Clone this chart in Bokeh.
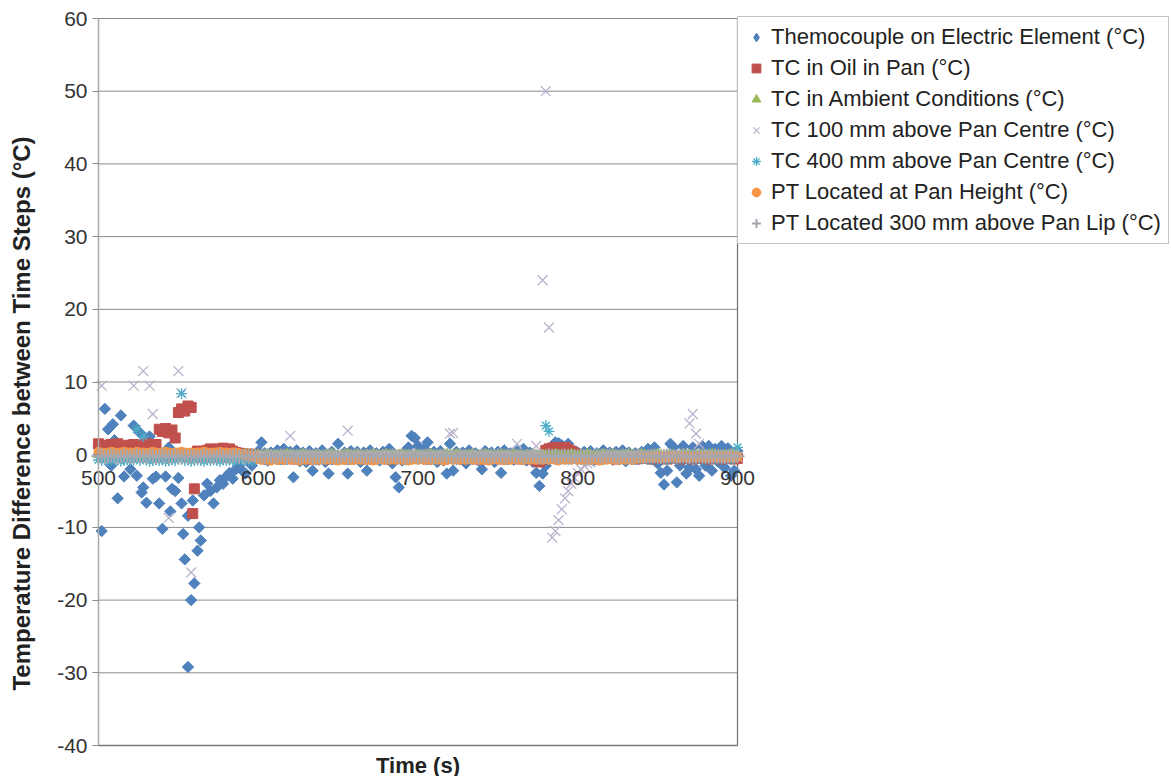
import numpy as np
from bokeh.plotting import figure
from bokeh.models import Legend, LegendItem, FixedTicker, Range1d, LinearAxis
from bokeh.embed import file_html
from bokeh.resources import INLINE

# ---------------- data ----------------
time_s = list(range(500, 901, 2))

elem = [
    1.0, -10.5, 6.3, 3.5, -1.5, 2.0, -6.0, 5.4, -3.0, 1.2,
    -2.0, 4.0, -2.9, 3.0, -4.5, -6.6, 2.5, -3.3, -3.0, -6.7,
    -10.2, -3.0, 1.0, -4.7, -5.0, -3.2, -6.7, -14.4, -29.2, -20.0,
    -17.7, -13.2, -11.8, -5.6, -4.0, -5.0, -6.7, -4.5, -3.5, -4.0,
    -3.0, -2.5, -3.3, -2.0, -1.5, -2.2, -2.6, -1.0, -1.5, -0.5,
    0.5, 1.7, 0.2, -0.8, 0.3, -0.5, 0.6, -0.3, 0.8, -0.6,
    0.4, -3.1, 0.6, -0.9, 0.3, -1.0, 0.5, -2.2, 0.2, -0.7,
    0.6, -1.0, -2.6, 0.4, -0.5, 1.5, -0.4, 0.3, -2.6, 0.5,
    -0.6, 0.4, -1.0, 0.3, -2.2, 0.6, -0.5, 0.2, -0.8, 0.4,
    -0.4, 0.8, -1.2, -3.1, -4.5, -0.8, 0.5, 1.0, 2.6, 2.3,
    1.2, -0.5, 0.8, 1.7, -0.6, 0.4, -1.0, 0.5, -0.8, -2.6,
    1.5, -2.2, 0.4, -0.6, 0.3, -1.2, 0.6, -0.4, 0.2, -0.8,
    -2.0, 0.5, -0.6, 0.3, -1.0, 0.4, -2.5, 0.6, -0.5, 0.2,
    -0.7, 0.5, -0.3, 0.8, -0.8, 0.3, -1.0, -2.5, -4.3, -2.6,
    -1.5, 0.6, 1.2, 1.7, 1.6, 1.3, 1.0, 1.5, 0.6, -0.5,
    0.3, -0.6, 0.4, -0.3, 0.5, -0.8, 0.2, -0.4, 0.6, -0.5,
    0.3, -0.7, 0.4, -0.2, 0.6, -0.9, 0.3, -0.5, 0.2, -0.6,
    0.4, -0.3, 0.8, -0.6, 1.0, -1.2, -2.5, -4.1, -2.2, 1.5,
    1.0, -3.8, -1.5, 1.2, -2.6, -1.8, 1.0, -2.0, -2.9, 1.2,
    -1.5, 1.2, -2.2, 0.8, -1.0, 1.2, -1.8, 0.9, -2.9, -2.2,
    0.5,
]
elem_extra_t = [553, 556, 559, 563, 509, 527, 545]
elem_extra_v = [-10.9, -8.4, -6.3, -10.0, 4.2, -5.2, -7.8]

oil = [
    1.5, 1.2, 1.3, 1.0, 1.4, 1.2, 1.5, 1.1, 1.3, 1.0,
    1.2, 1.4, 1.0, 1.3, 1.1, 1.5, 1.2, 1.4, 1.4, 3.5,
    3.2, 3.6, 3.0, 3.4, 2.3, 5.8, 6.3, 6.0, 6.7, 6.5,
    -4.7, 0.5, 0.2, 0.4, 0.6, 0.8, 0.7, 0.5, 0.8, 0.9,
    0.6, 0.8, 0.5, 0.3, 0.2, 0.1, 0.0, 0.1, -0.1, 0.0,
    -0.4, -0.5, -0.4, -0.6, -0.5, -0.4, -0.5, -0.6, -0.4, -0.5,
    -0.5, -0.4, -0.6, -0.5, -0.4, -0.5, -0.4, -0.6, -0.5, -0.4,
    -0.4, -0.5, -0.5, -0.6, -0.4, -0.5, -0.4, -0.5, -0.6, -0.5,
    -0.5, -0.4, -0.5, -0.4, -0.6, -0.5, -0.4, -0.5, -0.5, -0.4,
    -0.4, -0.6, -0.5, -0.4, -0.5, -0.4, -0.6, -0.5, -0.4, -0.5,
    -0.5, -0.4, -0.5, -0.6, -0.4, -0.5, -0.5, -0.4, -0.6, -0.5,
    -0.4, -0.5, -0.4, -0.5, -0.6, -0.4, -0.5, -0.4, -0.5, -0.6,
    -0.5, -0.4, -0.6, -0.5, -0.4, -0.5, -0.4, -0.6, -0.5, -0.4,
    -0.4, -0.5, -0.4, -0.6, -0.5, -0.4, -0.5, -0.8, -1.0, -0.6,
    0.6, 0.8, 0.9, 1.0, 0.9, 0.8, 1.0, 0.7, 0.5, 0.2,
    -0.3, -0.4, -0.5, -0.4, -0.5, -0.6, -0.4, -0.5, -0.4, -0.5,
    -0.5, -0.4, -0.6, -0.5, -0.4, -0.5, -0.4, -0.5, -0.6, -0.4,
    -0.5, -0.4, -0.5, -0.6, -0.4, -0.5, -0.5, -0.4, -0.6, -0.5,
    -0.4, -0.5, -0.6, -0.5, -0.4, -0.5, -0.6, -0.5, -0.4, -0.5,
    -0.5, -0.6, -0.5, -0.4, -0.5, -0.6, -0.5, -0.4, -0.5, -0.6,
    -0.5,
]
oil_extra_t = [559]
oil_extra_v = [-8.1]

ambient = [
    0.0, -0.1, 0.0, 0.1, 0.0, -0.1, 0.0, 0.0, -0.1, 0.0,
    0.1, 0.0, -0.1, 0.0, 0.0, 0.1, 0.0, -0.1, 0.0, 0.0,
    -0.1, 0.0, 0.0, 0.1, 0.0, -0.1, 0.0, 0.1, 0.0, -0.1,
    0.0, 0.0, -0.1, 0.0, 0.1, 0.0, 0.0, -0.1, 0.0, 0.0,
    0.1, 0.0, -0.1, 0.0, 0.0, 0.0, 0.1, 0.0, -0.1, 0.0,
    0.0, -0.1, 0.0, 0.1, 0.0, 0.0, -0.1, 0.0, 0.0, 0.1,
    0.0, 0.0, -0.1, 0.0, 0.1, 0.0, 0.0, -0.1, 0.0, 0.0,
    -0.1, 0.0, 0.0, 0.1, 0.0, -0.1, 0.0, 0.0, 0.1, 0.0,
    0.0, 0.1, 0.0, -0.1, 0.0, 0.0, 0.1, 0.0, -0.1, 0.0,
    0.1, 0.0, -0.1, 0.0, 0.0, 0.1, 0.0, 0.0, -0.1, 0.0,
    0.0, -0.1, 0.0, 0.0, 0.1, 0.0, -0.1, 0.0, 0.0, 0.1,
    0.0, 0.0, 0.1, 0.0, -0.1, 0.0, 0.0, 0.1, 0.0, -0.1,
    0.0, 0.1, 0.0, 0.0, -0.1, 0.0, 0.1, 0.0, 0.0, -0.1,
    0.1, 0.0, 0.0, -0.1, 0.0, 0.0, 0.1, 0.0, -0.1, 0.0,
    0.0, -0.1, 0.0, 0.1, 0.0, 0.0, -0.1, 0.0, 0.1, 0.0,
    -0.1, 0.0, 0.0, 0.1, 0.0, -0.1, 0.0, 0.0, 0.1, 0.0,
    0.0, 0.1, 0.0, -0.1, 0.0, 0.0, 0.1, 0.0, -0.1, 0.0,
    0.1, 0.0, -0.1, 0.0, 0.0, 0.1, 0.0, -0.1, 0.0, 0.0,
    0.0, -0.1, 0.0, 0.1, 0.0, 0.0, -0.1, 0.0, 0.1, 0.0,
    -0.1, 0.0, 0.1, 0.0, 0.0, -0.1, 0.0, 0.0, 0.1, 0.0,
    0.0,
]

tc100 = [
    -0.3, 9.5, -0.2, -0.4, -0.3, -0.2, -0.3, -0.4, -0.2, -0.3,
    -0.3, 9.5, -0.2, -0.4, 11.5, -0.3, 9.5, 5.6, -0.2, -0.3,
    -0.3, -0.2, -8.7, -0.4, -0.3, 11.5, 8.5, -0.2, -0.3, -16.2,
    -0.3, -0.2, -0.4, -0.3, -0.2, -0.3, -0.4, -0.2, -0.3, -0.3,
    -0.2, -0.3, -0.4, -0.2, -0.3, -0.3, -0.2, -0.4, -0.3, -0.2,
    -0.3, -0.2, -0.3, -0.4, -0.2, -0.3, -0.3, -0.2, -0.4, -0.3,
    2.6, -0.3, -0.2, -0.3, -0.4, -0.2, -0.3, -0.3, -0.2, -0.4,
    -0.3, -0.2, -0.3, -0.4, -0.2, -0.3, -0.3, -0.2, 3.3, -0.3,
    -0.2, -0.3, -0.4, -0.2, -0.3, -0.3, -0.2, -0.4, -0.3, -0.2,
    -0.3, -0.2, -0.3, -0.4, -0.2, -0.3, -0.3, -0.2, -0.4, -0.3,
    -0.2, -0.3, -0.4, -0.2, -0.3, -0.3, -0.2, -0.4, -0.3, -0.2,
    2.9, 3.0, -0.3, -0.2, -0.4, -0.3, -0.2, -0.3, -0.4, -0.2,
    -0.3, -0.2, -0.3, -0.4, -0.2, -0.3, -0.3, -0.2, -0.4, -0.3,
    -0.2, 1.5, -0.3, -0.4, -0.2, -0.3, -0.3, 1.2, -0.2, 24.0,
    50.0, 17.5, -11.4, -10.5, -9.0, -7.5, -6.0, -5.0, -4.0, -3.2,
    -2.5, -2.0, -1.5, -1.2, -1.0, -0.8, -0.6, -0.5, -0.4, -0.3,
    -0.3, -0.2, -0.4, -0.3, -0.2, -0.3, -0.4, -0.2, -0.3, -0.3,
    -0.2, -0.3, -0.4, -0.2, -0.3, -0.3, -0.2, -0.4, -0.3, -0.2,
    -0.3, -0.2, -0.3, -0.4, -0.2, 4.3, 5.6, 2.9, 1.5, -0.3,
    -0.2, -0.3, -0.4, -0.2, -0.3, -0.3, -0.2, -0.4, -0.3, -0.2,
    -0.3,
]

tc400 = [
    -0.7, -0.8, -0.6, -0.9, -0.7, -0.8, -0.7, -0.9, -0.8, -0.7,
    -0.8, -0.7, 3.5, -0.8, 2.5, -0.7, -0.9, -0.8, -0.7, -0.8,
    -0.7, -0.9, -0.8, -0.7, -0.8, -0.6, 8.4, -0.8, -0.7, -0.9,
    -0.8, -0.7, -0.8, -0.9, -0.7, -0.8, -0.7, -0.8, -0.9, -0.7,
    -0.8, -0.7, -0.9, -0.8, -0.7, -0.8, -0.7, -0.9, -0.8, -0.7,
    -0.5, -0.6, -0.7, -0.5, -0.6, -0.5, -0.6, -0.7, -0.5, -0.6,
    -0.6, -0.5, -0.6, -0.7, -0.5, -0.6, -0.5, -0.6, -0.7, -0.5,
    -0.5, -0.6, -0.5, -0.7, -0.6, -0.5, -0.6, -0.5, -0.7, -0.6,
    -0.6, -0.5, -0.7, -0.6, -0.5, -0.6, -0.5, -0.6, -0.7, -0.5,
    -0.5, -0.7, -0.6, -0.5, -0.6, -0.5, -0.7, -0.6, -0.5, -0.6,
    -0.6, -0.5, -0.6, -0.7, -0.5, -0.6, -0.5, -0.7, -0.6, -0.5,
    -0.5, -0.6, -0.7, -0.5, -0.6, -0.5, -0.6, -0.7, -0.5, -0.6,
    -0.6, -0.5, -0.6, -0.7, -0.5, -0.6, -0.5, -0.6, -0.7, -0.5,
    -0.5, -0.6, -0.5, -0.7, -0.6, -0.5, -0.6, -0.5, -0.7, -0.6,
    4.0, 3.2, -0.4, -0.6, -0.5, -0.6, -0.5, -0.7, -0.6, -0.5,
    -0.6, -0.5, -0.7, -0.6, -0.5, -0.6, -0.5, -0.6, -0.7, -0.5,
    -0.5, -0.6, -0.5, -0.7, -0.6, -0.5, -0.6, -0.5, -0.7, -0.6,
    -0.6, -0.5, -0.6, -0.7, -0.5, -0.6, -0.5, -0.6, -0.7, -0.5,
    -0.5, -0.7, -0.6, -0.5, -0.6, -0.5, -0.7, -0.6, -0.5, -0.6,
    -0.6, -0.5, -0.6, -0.7, -0.5, -0.6, -0.5, -0.6, -0.7, -0.5,
    1.0,
]

pt_pan = [
    0.4, 0.3, 0.2, 0.3, 0.4, 0.3, 0.2, 0.3, 0.4, 0.3,
    0.3, 0.2, 0.4, 0.3, 0.3, 0.2, 0.3, 0.4, 0.3, 0.2,
    0.3, 0.4, 0.3, 0.2, 0.3, 0.3, 0.4, 0.3, 0.2, 0.3,
    0.2, 0.3, 0.3, 0.4, 0.3, 0.2, 0.3, 0.3, 0.4, 0.3,
    0.3, 0.2, 0.3, 0.3, 0.2, 0.1, 0.0, -0.1, -0.2, -0.3,
    -0.6, -0.7, -0.6, -0.7, -0.8, -0.6, -0.7, -0.6, -0.7, -0.6,
    -0.7, -0.6, -0.7, -0.8, -0.6, -0.7, -0.6, -0.7, -0.6, -0.7,
    -0.6, -0.7, -0.6, -0.6, -0.7, -0.8, -0.6, -0.7, -0.6, -0.7,
    -0.7, -0.6, -0.7, -0.6, -0.7, -0.6, -0.8, -0.7, -0.6, -0.7,
    -0.6, -0.7, -0.6, -0.7, -0.6, -0.7, -0.6, -0.8, -0.7, -0.6,
    -0.7, -0.6, -0.7, -0.6, -0.7, -0.6, -0.7, -0.6, -0.8, -0.7,
    -0.6, -0.7, -0.6, -0.7, -0.6, -0.7, -0.6, -0.7, -0.6, -0.7,
    -0.7, -0.6, -0.8, -0.7, -0.6, -0.7, -0.6, -0.7, -0.6, -0.7,
    -0.6, -0.7, -0.6, -0.7, -0.6, -0.7, -0.6, -0.7, -0.6, -0.7,
    -0.6, -0.7, -0.6, -0.7, -0.8, -0.6, -0.7, -0.6, -0.7, -0.6,
    -0.7, -0.6, -0.7, -0.6, -0.7, -0.6, -0.7, -0.8, -0.6, -0.7,
    -0.6, -0.7, -0.6, -0.7, -0.6, -0.7, -0.6, -0.7, -0.6, -0.5,
    -0.5, -0.4, -0.4, -0.3, -0.4, -0.3, -0.3, -0.4, -0.3, -0.3,
    -0.3, -0.4, -0.3, -0.3, -0.4, -0.3, -0.3, -0.4, -0.3, -0.3,
    -0.3, -0.4, -0.3, -0.3, -0.4, -0.3, -0.3, -0.4, -0.3, -0.3,
    -0.3,
]

pt_lip = [
    -0.2, -0.1, -0.3, -0.2, -0.1, -0.2, -0.3, -0.2, -0.1, -0.2,
    -0.3, -0.2, -0.1, -0.2, -0.2, -0.3, -0.1, -0.2, -0.3, -0.2,
    -0.1, -0.2, -0.3, -0.2, -0.1, -0.2, -0.4, -0.2, -0.3, -0.2,
    -0.2, -0.3, -0.2, -0.1, -0.2, -0.2, -0.3, -0.2, -0.1, -0.2,
    -0.3, -0.2, -0.2, -0.1, -0.3, -0.2, -0.2, -0.3, -0.1, -0.2,
    -0.2, -0.2, -0.3, -0.1, -0.2, -0.3, -0.2, -0.1, -0.2, -0.3,
    -0.1, -0.2, -0.2, -0.3, -0.2, -0.1, -0.2, -0.3, -0.2, -0.2,
    -0.3, -0.2, -0.1, -0.2, -0.2, -0.3, -0.2, -0.1, -0.3, -0.2,
    -0.2, -0.1, -0.2, -0.3, -0.2, -0.2, -0.1, -0.2, -0.3, -0.2,
    -0.2, -0.3, -0.1, -0.2, -0.2, -0.1, -0.3, -0.2, -0.2, -0.1,
    -0.3, -0.2, -0.2, -0.1, -0.2, -0.3, -0.2, -0.2, -0.1, -0.2,
    -0.2, -0.3, -0.2, -0.1, -0.2, -0.2, -0.3, -0.1, -0.2, -0.2,
    -0.1, -0.2, -0.3, -0.2, -0.2, -0.1, -0.2, -0.3, -0.2, -0.1,
    -0.2, -0.2, -0.1, -0.3, -0.2, -0.2, -0.1, -0.2, -0.3, -0.2,
    -0.3, -0.1, -0.2, -0.2, -0.3, -0.2, -0.1, -0.2, -0.2, -0.3,
    -0.2, -0.1, -0.2, -0.3, -0.2, -0.2, -0.1, -0.3, -0.2, -0.2,
    -0.1, -0.2, -0.2, -0.3, -0.1, -0.2, -0.2, -0.3, -0.2, -0.1,
    -0.2, -0.3, -0.2, -0.2, -0.1, -0.2, -0.3, -0.2, -0.2, -0.1,
    -0.3, -0.2, -0.2, -0.1, -0.2, -0.3, -0.2, -0.2, -0.1, -0.2,
    -0.2, -0.2, -0.3, -0.1, -0.2, -0.2, -0.3, -0.2, -0.1, -0.2,
    -0.2,
]

series_names = [
    "Themocouple on Electric Element (°C)",
    "TC in Oil in Pan (°C)",
    "TC in Ambient Conditions (°C)",
    "TC 100 mm above Pan Centre (°C)",
    "TC 400 mm above Pan Centre (°C)",
    "PT Located at Pan Height (°C)",
    "PT Located 300 mm above Pan Lip (°C)",
]
x_tick_values = [500, 600, 700, 800, 900]
x_tick_labels = ["500", "600", "700", "800", "900"]
y_ticks = [-40, -30, -20, -10, 0, 10, 20, 30, 40, 50, 60]
y_tick_labels = [str(v) for v in y_ticks]
X_MIN, X_MAX = 500, 900
Y_MIN, Y_MAX = -40, 60

# ---------------- layout (pixels) ----------------
FIG_W, FIG_H = 1170, 776
PA_LEFT, PA_RIGHT, PA_TOP, PA_BOTTOM = 98, 737, 18, 745   # plot area box
LEG_BOTTOM = 244
YTITLE_CENTER = 413

sx = (PA_RIGHT - PA_LEFT) / (X_MAX - X_MIN)
sy = (PA_BOTTOM - PA_TOP) / (Y_MAX - Y_MIN)
x_start = X_MIN - PA_LEFT / sx
y_end = Y_MAX + PA_TOP / sy
ytitle_mid = Y_MAX - (YTITLE_CENTER - PA_TOP) / sy

FONT = "Liberation Sans"
TICK_COLOR = "#333333"
GRID_COLOR = "#8a8a8a"

p = figure(frame_width=FIG_W, frame_height=FIG_H,
           x_range=Range1d(x_start, x_start + FIG_W / sx),
           y_range=Range1d(y_end - FIG_H / sy, y_end),
           x_axis_location=None, y_axis_location=None,
           output_backend="svg", toolbar_location=None, min_border=0)
p.background_fill_color = "white"
p.border_fill_color = "white"
p.outline_line_color = None
p.grid.visible = False

# horizontal gridlines across the plot area only
p.segment(x0=X_MIN, x1=X_MAX, y0=y_ticks, y1=y_ticks,
          line_color=GRID_COLOR, line_width=1)
# right edge of the plot area
p.segment(x0=[X_MAX], x1=[X_MAX], y0=[Y_MIN], y1=[Y_MAX],
          line_color="#6f6f6f", line_width=1.2)

# y axis with ticks and labels at x = 500
ya = LinearAxis(fixed_location=X_MIN, bounds=(Y_MIN, Y_MAX),
                ticker=FixedTicker(ticks=y_ticks),
                major_label_overrides=dict(zip(y_ticks, y_tick_labels)))
ya.axis_line_color = "#a8a8a8"
ya.axis_line_width = 1.5
ya.major_tick_line_color = GRID_COLOR
ya.major_tick_out = 6
ya.major_tick_in = 0
ya.minor_tick_line_color = None
ya.major_label_text_font = FONT
ya.major_label_text_font_size = "21px"
ya.major_label_text_color = TICK_COLOR
ya.major_label_standoff = 5
p.add_layout(ya, "left")

# y title (its own axis, no line / ticks)
yt = LinearAxis(fixed_location=X_MIN,
                bounds=(Y_MIN, 2 * ytitle_mid - Y_MIN),
                ticker=FixedTicker(ticks=[]), axis_line_color=None,
                major_tick_line_color=None, minor_tick_line_color=None,
                axis_label="Temperature Difference between Time Steps (°C)",
                axis_label_text_font=FONT, axis_label_text_font_style="bold",
                axis_label_text_font_size="24px",
                axis_label_text_color="#222222", axis_label_standoff=64)
p.add_layout(yt, "left")

# x tick labels sitting on the zero line
xa = LinearAxis(fixed_location=0, bounds=(X_MIN, X_MAX),
                ticker=FixedTicker(ticks=x_tick_values),
                major_label_overrides=dict(zip(x_tick_values, x_tick_labels)))
xa.axis_line_color = None
xa.major_tick_line_color = None
xa.minor_tick_line_color = None
xa.major_label_text_font = FONT
xa.major_label_text_font_size = "21px"
xa.major_label_text_color = TICK_COLOR
xa.major_label_standoff = 10
p.add_layout(xa, "below")

# x title under the plot area
xt = LinearAxis(fixed_location=Y_MIN, bounds=(X_MIN, X_MAX),
                ticker=FixedTicker(ticks=[]), axis_line_color="#7a7a7a",
                axis_line_width=1.5,
                major_tick_line_color=None, minor_tick_line_color=None,
                axis_label="Time (s)", axis_label_text_font=FONT,
                axis_label_text_font_style="bold",
                axis_label_text_font_size="22px",
                axis_label_text_color="#222222", axis_label_standoff=7)
p.add_layout(xt, "below")

# ---------------- series ----------------
r_elem = p.scatter(time_s + elem_extra_t, elem + elem_extra_v, marker="square",
                   angle=np.pi / 4, size=8, fill_color="#4F81BD",
                   line_color="#4F81BD")
r_oil = p.scatter(time_s + oil_extra_t, oil + oil_extra_v, marker="square",
                  size=10, fill_color="#C0504D", line_color="#C0504D")
r_amb = p.scatter(time_s, ambient, marker="triangle", size=10,
                  fill_color="#9BBB59", line_color="#9BBB59")
r_100 = p.scatter(time_s, tc100, marker="x", size=14,
                  line_color="#BAB2CC", line_width=1.3)
r_400 = p.scatter(time_s, tc400, marker="asterisk", size=11,
                  line_color="#4BACC6", line_width=1.3)
r_pan = p.scatter(time_s, pt_pan, marker="circle", size=9,
                  fill_color="#F79646", line_color="#F79646")
r_lip = p.scatter(time_s, pt_lip, marker="cross", size=14,
                  line_color="#A6A6AE", line_width=2)

# legend key for the first series drawn as a diamond (invisible on the plot)
r_elem_key = p.scatter(time_s, elem, marker="diamond", size=0,
                       fill_color="#4F81BD", line_color="#4F81BD")

renderers = [r_elem_key, r_oil, r_amb, r_100, r_400, r_pan, r_lip]
legend = Legend(items=[LegendItem(label=n, renderers=[r], index=0)
                       for n, r in zip(series_names, renderers)],
                location=(PA_RIGHT, FIG_H - LEG_BOTTOM))
legend.margin = 0
legend.padding = 7
legend.spacing = 5
legend.glyph_width = 22
legend.glyph_height = 22
legend.label_height = 22
legend.label_standoff = 4
legend.label_text_font = FONT
legend.label_text_font_size = "22px"
legend.label_text_color = "#222222"
legend.border_line_color = "#8a8a8a"
legend.border_line_width = 1.5
legend.background_fill_color = "white"
p.add_layout(legend, "center")

open("out.html", "w").write(file_html(p, INLINE))
